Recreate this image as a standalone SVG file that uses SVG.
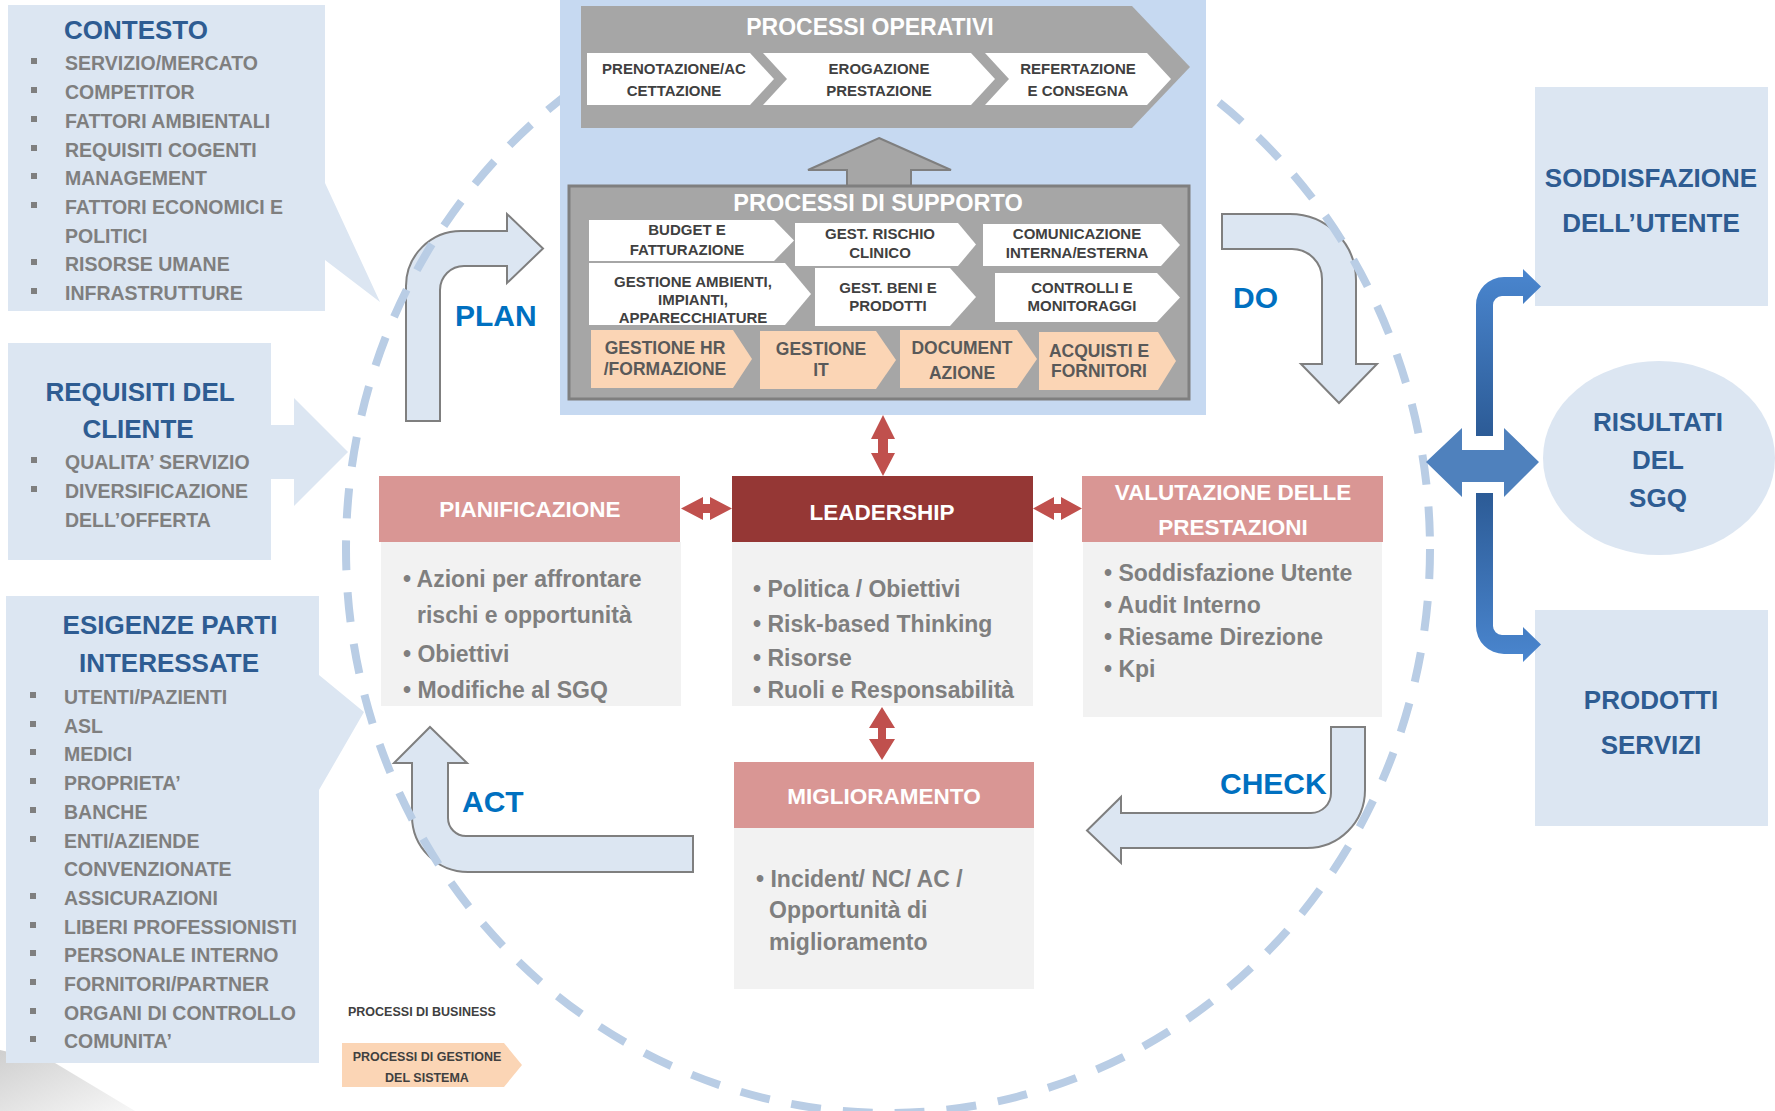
<svg xmlns="http://www.w3.org/2000/svg" width="1775" height="1111" viewBox="0 0 1775 1111">
<style>
text { font-family: "Liberation Sans", Arial, sans-serif; font-weight: bold; }
.side { fill: #DCE6F2; }
.ttl { font-size: 26px; fill: #2E5C92; text-anchor: middle; }
.li { font-size: 19.5px; fill: #7F7F7F; }
.bul { fill: #7F7F7F; }
.chw { fill: #FFFFFF; }
.cho { fill: #FBD5B5; }
.cht { font-size: 15px; fill: #404040; text-anchor: middle; }
.cho-t { font-size: 17.5px; fill: #595959; text-anchor: middle; }
.hdr { font-size: 22.5px; fill: #FFFFFF; text-anchor: middle; }
.body { fill: #F2F2F2; }
.bt { font-size: 23px; fill: #7F7F7F; }
.pdca { fill: #DCE6F2; stroke: #7F7F7F; stroke-width: 2; }
.pdt { font-size: 30px; fill: #0070C0; }
.red { fill: #C0504D; }
.res { font-size: 26px; fill: #2E5C92; text-anchor: middle; }
</style>
<defs>
<linearGradient id="gUp" x1="0" y1="0" x2="0" y2="1">
<stop offset="0" stop-color="#4A86CF"/><stop offset="1" stop-color="#2C5B96"/>
</linearGradient>
<linearGradient id="gDn" x1="0" y1="0" x2="0" y2="1">
<stop offset="0" stop-color="#2C5B96"/><stop offset="1" stop-color="#4A86CF"/>
</linearGradient>
<linearGradient id="gShade" x1="0" y1="0" x2="1" y2="1">
<stop offset="0" stop-color="#CFCFCF"/><stop offset="1" stop-color="#F7F7F7"/>
</linearGradient>
</defs>
<rect x="0" y="0" width="1775" height="1111" fill="#FFFFFF"/>
<polygon points="0,1050 55,1063 135,1111 0,1111" fill="url(#gShade)"/>

<!-- Side input boxes -->
<g id="contesto">
<path class="side" d="M8,5 H325 V183 L380,302 L325,260 V311 H8 Z"/>
<text class="ttl" x="136" y="39">CONTESTO</text>
<g class="bul">
<rect x="31" y="58" width="6" height="6"/><rect x="31" y="87" width="6" height="6"/><rect x="31" y="116" width="6" height="6"/>
<rect x="31" y="145" width="6" height="6"/><rect x="31" y="173" width="6" height="6"/><rect x="31" y="202" width="6" height="6"/>
<rect x="31" y="259" width="6" height="6"/><rect x="31" y="288" width="6" height="6"/>
</g>
<text class="li" x="65" y="70">SERVIZIO/MERCATO</text>
<text class="li" x="65" y="99">COMPETITOR</text>
<text class="li" x="65" y="128">FATTORI AMBIENTALI</text>
<text class="li" x="65" y="157">REQUISITI COGENTI</text>
<text class="li" x="65" y="185">MANAGEMENT</text>
<text class="li" x="65" y="214">FATTORI ECONOMICI E</text>
<text class="li" x="65" y="243">POLITICI</text>
<text class="li" x="65" y="271">RISORSE UMANE</text>
<text class="li" x="65" y="300">INFRASTRUTTURE</text>
</g>

<g id="requisiti">
<path class="side" d="M8,343 H271 V425 H294 V398 L348,452 L294,506 V479 H271 V560 H8 Z"/>
<text class="ttl" x="140" y="401">REQUISITI DEL</text>
<text class="ttl" x="138" y="438">CLIENTE</text>
<g class="bul"><rect x="31" y="457" width="6" height="6"/><rect x="31" y="486" width="6" height="6"/></g>
<text class="li" x="65" y="469">QUALITA’ SERVIZIO</text>
<text class="li" x="65" y="498">DIVERSIFICAZIONE</text>
<text class="li" x="65" y="527">DELL’OFFERTA</text>
</g>

<g id="esigenze">
<path class="side" d="M6,596 H319 V675 L364,712 L319,790 V1063 H6 Z"/>
<text class="ttl" x="170" y="634">ESIGENZE PARTI</text>
<text class="ttl" x="169" y="672">INTERESSATE</text>
<g class="bul">
<rect x="30" y="692" width="6" height="6"/><rect x="30" y="721" width="6" height="6"/><rect x="30" y="749" width="6" height="6"/>
<rect x="30" y="778" width="6" height="6"/><rect x="30" y="807" width="6" height="6"/><rect x="30" y="836" width="6" height="6"/>
<rect x="30" y="893" width="6" height="6"/><rect x="30" y="922" width="6" height="6"/><rect x="30" y="950" width="6" height="6"/>
<rect x="30" y="979" width="6" height="6"/><rect x="30" y="1008" width="6" height="6"/><rect x="30" y="1036" width="6" height="6"/>
</g>
<text class="li" x="64" y="704">UTENTI/PAZIENTI</text>
<text class="li" x="64" y="733">ASL</text>
<text class="li" x="64" y="761">MEDICI</text>
<text class="li" x="64" y="790">PROPRIETA’</text>
<text class="li" x="64" y="819">BANCHE</text>
<text class="li" x="64" y="848">ENTI/AZIENDE</text>
<text class="li" x="64" y="876">CONVENZIONATE</text>
<text class="li" x="64" y="905">ASSICURAZIONI</text>
<text class="li" x="64" y="934">LIBERI PROFESSIONISTI</text>
<text class="li" x="64" y="962">PERSONALE INTERNO</text>
<text class="li" x="64" y="991">FORNITORI/PARTNER</text>
<text class="li" x="64" y="1020">ORGANI DI CONTROLLO</text>
<text class="li" x="64" y="1048">COMUNITA’</text>
</g>

<!-- PDCA arrows -->
<g id="plan">
<path class="pdca" d="M406,421 L406,286 A55,55 0 0 1 461,231 L507,231 L507,214 L543,248.5 L507,283 L507,266 L464,266 A24,24 0 0 0 440,290 L440,421 Z"/>
<text class="pdt" x="455" y="326">PLAN</text>
</g>
<g id="do">
<path class="pdca" d="M1222,214 L1290,214 A66,66 0 0 1 1356,280 L1356,364 L1377,364 L1339,403 L1301,364 L1322,364 L1322,279 A30,30 0 0 0 1292,249 L1222,249 Z"/>
<text class="pdt" x="1233" y="308">DO</text>
</g>
<g id="check">
<text class="pdt" x="1220" y="794">CHECK</text>
<path class="pdca" d="M1331,727 L1365,727 L1365,790 A58,58 0 0 1 1307,848 L1121,848 L1121,863 L1087,830.5 L1121,797 L1121,813 L1311,813 A20,20 0 0 0 1331,793 Z"/>
</g>
<g id="act">
<path class="pdca" d="M430,727 L467,763 L448,763 L448,818 A18,18 0 0 0 466,836 L693,836 L693,872 L468,872 A56,56 0 0 1 412,816 L412,763 L394,763 Z"/>
<text class="pdt" x="462" y="812">ACT</text>
</g>

<!-- dashed cycle -->
<g id="cycle">
<ellipse cx="888" cy="549" rx="542" ry="564" fill="none" stroke="#B9CDE5" stroke-width="8" stroke-dasharray="30 22"/>
</g>

<!-- Central process panel -->
<g id="processi">
<rect x="560" y="0" width="646" height="415" fill="#C6D9F1"/>
<polygon points="581,6 1132,6 1190,67 1132,128 581,128" fill="#A6A6A6"/>
<text x="870" y="35" font-size="23" fill="#FFFFFF" text-anchor="middle">PROCESSI OPERATIVI</text>
<polygon class="chw" points="587,53 750,53 774,79 750,105 587,105"/>
<polygon class="chw" points="763,53 971,53 995,79 971,105 763,105 787,79"/>
<polygon class="chw" points="985,53 1147,53 1171,79 1147,105 985,105 1009,79"/>
<text class="cht" x="674" y="74">PRENOTAZIONE/AC</text>
<text class="cht" x="674" y="96">CETTAZIONE</text>
<text class="cht" x="879" y="74">EROGAZIONE</text>
<text class="cht" x="879" y="96">PRESTAZIONE</text>
<text class="cht" x="1078" y="74">REFERTAZIONE</text>
<text class="cht" x="1078" y="96">E CONSEGNA</text>

<path d="M879,138 L951,170 L911,170 L911,187 L847,187 L847,170 L808,170 Z" fill="#A6A6A6" stroke="#7F7F7F" stroke-width="2"/>
<rect x="569" y="186" width="620" height="213" fill="#A6A6A6" stroke="#7F7F7F" stroke-width="3"/>
<text x="878" y="211" font-size="23.5" fill="#FFFFFF" text-anchor="middle">PROCESSI DI SUPPORTO</text>

<polygon class="chw" points="589,220 774,220 794,240.5 774,261 589,261"/>
<polygon class="chw" points="795,223 958,223 976,244.5 958,266 795,266"/>
<polygon class="chw" points="983,224 1161,224 1180,245 1161,266 983,266"/>
<polygon class="chw" points="589,263 785,263 811,294 785,325 589,325"/>
<polygon class="chw" points="815,268 950,268 976,297 950,326 815,326"/>
<polygon class="chw" points="995,273 1157,273 1180,297.5 1157,322 995,322"/>
<text class="cht" x="687" y="235">BUDGET E</text>
<text class="cht" x="687" y="255">FATTURAZIONE</text>
<text class="cht" x="880" y="239">GEST. RISCHIO</text>
<text class="cht" x="880" y="258">CLINICO</text>
<text class="cht" x="1077" y="239">COMUNICAZIONE</text>
<text class="cht" x="1077" y="258">INTERNA/ESTERNA</text>
<text class="cht" x="693" y="287">GESTIONE AMBIENTI,</text>
<text class="cht" x="693" y="305">IMPIANTI,</text>
<text class="cht" x="693" y="323">APPARECCHIATURE</text>
<text class="cht" x="888" y="293">GEST. BENI E</text>
<text class="cht" x="888" y="311">PRODOTTI</text>
<text class="cht" x="1082" y="293">CONTROLLI E</text>
<text class="cht" x="1082" y="311">MONITORAGGI</text>

<polygon class="cho" points="591,330 733,330 752,359 733,388 591,388"/>
<polygon class="cho" points="760,331 876,331 896,360 876,389 760,389"/>
<polygon class="cho" points="900,330 1017,330 1037,359 1017,388 900,388"/>
<polygon class="cho" points="1039,332 1158,332 1176,361 1158,390 1039,390"/>
<text class="cho-t" x="665" y="354">GESTIONE HR</text>
<text class="cho-t" x="665" y="375">/FORMAZIONE</text>
<text class="cho-t" x="821" y="355">GESTIONE</text>
<text class="cho-t" x="821" y="376">IT</text>
<text class="cho-t" x="962" y="354">DOCUMENT</text>
<text class="cho-t" x="962" y="379">AZIONE</text>
<text class="cho-t" x="1099" y="357">ACQUISTI E</text>
<text class="cho-t" x="1099" y="377">FORNITORI</text>
</g>

<!-- Central management boxes -->
<g id="pianificazione">
<rect x="379" y="476" width="301" height="66" fill="#D99694"/>
<rect class="body" x="381" y="542" width="300" height="164"/>
<text class="hdr" x="530" y="517">PIANIFICAZIONE</text>
<text class="bt" x="403" y="587">• Azioni per affrontare</text>
<text class="bt" x="417" y="623">rischi e opportunità</text>
<text class="bt" x="403" y="662">• Obiettivi</text>
<text class="bt" x="403" y="698">• Modifiche al SGQ</text>
</g>
<g id="leadership">
<rect x="732" y="476" width="301" height="66" fill="#953735"/>
<rect class="body" x="732" y="542" width="301" height="164"/>
<text class="hdr" x="882" y="520" font-size="25">LEADERSHIP</text>
<text class="bt" x="753" y="597">• Politica / Obiettivi</text>
<text class="bt" x="753" y="632">• Risk-based Thinking</text>
<text class="bt" x="753" y="666">• Risorse</text>
<text class="bt" x="753" y="698">• Ruoli e Responsabilità</text>
</g>
<g id="valutazione">
<rect x="1082" y="476" width="301" height="66" fill="#D99694"/>
<rect class="body" x="1083" y="542" width="299" height="175"/>
<text class="hdr" x="1233" y="500">VALUTAZIONE DELLE</text>
<text class="hdr" x="1233" y="535">PRESTAZIONI</text>
<text class="bt" x="1104" y="581">• Soddisfazione Utente</text>
<text class="bt" x="1104" y="613">• Audit Interno</text>
<text class="bt" x="1104" y="645">• Riesame Direzione</text>
<text class="bt" x="1104" y="677">• Kpi</text>
</g>
<g id="miglioramento">
<rect x="734" y="762" width="300" height="66" fill="#D99694"/>
<rect class="body" x="734" y="828" width="300" height="161"/>
<text class="hdr" x="884" y="804" font-size="24">MIGLIORAMENTO</text>
<text class="bt" x="756" y="887">• Incident/ NC/ AC /</text>
<text class="bt" x="769" y="918">Opportunità di</text>
<text class="bt" x="769" y="950">miglioramento</text>
</g>

<!-- Results -->
<g id="soddisfazione">
<rect class="side" x="1535" y="87" width="233" height="219"/>
<text class="res" x="1651" y="187">SODDISFAZIONE</text>
<text class="res" x="1651" y="232">DELL’UTENTE</text>
</g>
<g id="risultati">
<ellipse class="side" cx="1659" cy="458" rx="116" ry="97"/>
<text class="res" x="1658" y="431">RISULTATI</text>
<text class="res" x="1658" y="469">DEL</text>
<text class="res" x="1658" y="507">SGQ</text>
</g>
<g id="prodotti">
<rect class="side" x="1535" y="610" width="233" height="216"/>
<text class="res" x="1651" y="709">PRODOTTI</text>
<text class="res" x="1651" y="754">SERVIZI</text>
</g>

<!-- Connectors -->
<g id="connectors">
<path class="red" d="M681,508.5 L703,497 L703,504 L710,504 L710,497 L732,508.5 L710,520 L710,513 L703,513 L703,520 Z"/>
<path class="red" d="M1033,508.5 L1054,497 L1054,504 L1061,504 L1061,497 L1082,508.5 L1061,520 L1061,513 L1054,513 L1054,520 Z"/>
<path class="red" d="M883,415 L895,439 L888,439 L888,453 L895,453 L883,476 L871,453 L878,453 L878,439 L871,439 Z"/>
<path class="red" d="M882,707 L895,728 L886,728 L886,739 L895,739 L882,760 L869,739 L878,739 L878,728 L869,728 Z"/>
<path d="M1426,462 L1462,428 L1462,450 L1504,450 L1504,428 L1539,462 L1504,497 L1504,482 L1462,482 L1462,497 Z" fill="#4F81BD"/>
<path d="M1476,436 L1476,305 A28,28 0 0 1 1504,277 L1523,277 L1523,269 L1541,286.5 L1523,304 L1523,296 L1502,296 A9,9 0 0 0 1493,305 L1493,436 Z" fill="url(#gUp)"/>
<path d="M1476,493 L1493,493 L1493,626 A9,9 0 0 0 1502,635 L1523,635 L1523,627 L1541,644.5 L1523,662 L1523,654 L1504,654 A28,28 0 0 1 1476,626 Z" fill="url(#gDn)"/>
</g>

<!-- Legend -->
<g id="legend">
<text x="348" y="1016" font-size="12.5" fill="#404040">PROCESSI DI BUSINESS</text>
<polygon points="342,1043 504,1043 522,1065 504,1087 342,1087" fill="#FBD5B5"/>
<text x="427" y="1061" font-size="12.5" fill="#404040" text-anchor="middle">PROCESSI DI GESTIONE</text>
<text x="427" y="1082" font-size="12.5" fill="#404040" text-anchor="middle">DEL SISTEMA</text>
</g>
</svg>
